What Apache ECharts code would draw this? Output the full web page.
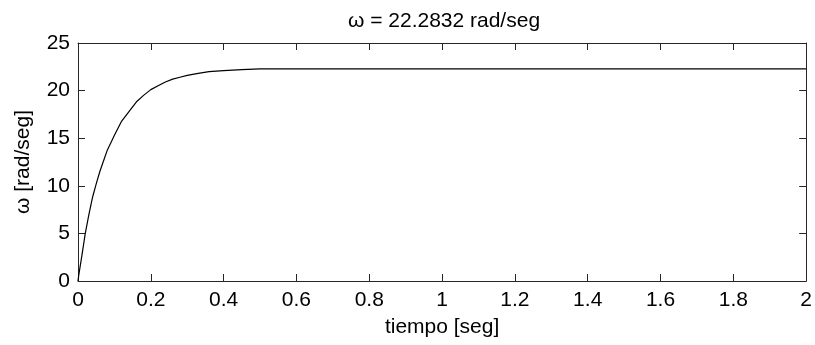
<!DOCTYPE html>
<html>
<head>
<meta charset="utf-8">
<script src="https://cdn.jsdelivr.net/npm/echarts@6/dist/echarts.min.js"></script>
<style>
  html, body { margin: 0; padding: 0; background: #fff; }
  #chart { width: 815px; height: 345px; }
</style>
</head>
<body>
<div id="chart"></div>
<script>
const tiempo = [0, 0.002, 0.01, 0.02, 0.03, 0.04, 0.05, 0.06, 0.07, 0.08, 0.09, 0.10,
    0.12, 0.14, 0.16, 0.18, 0.20, 0.22, 0.24, 0.26, 0.28, 0.30, 0.33, 0.36, 0.40, 0.45, 0.50, 2.0];
const omega = [0, 0.6, 2.5, 5.0, 7.0, 8.8, 10.2, 11.5, 12.6, 13.7, 14.5, 15.3,
    16.8, 17.8, 18.8, 19.5, 20.1, 20.5, 20.9, 21.2, 21.4, 21.6, 21.8, 22.0, 22.1, 22.2, 22.28, 22.28];
const xTicks = ['0', '0.2', '0.4', '0.6', '0.8', '1', '1.2', '1.4', '1.6', '1.8', '2'];
const yTicks = ['0', '5', '10', '15', '20', '25'];

const font = 'Liberation Sans, Arial, sans-serif';
const ink = '#262626';
const txt = '#000';

const points = [];
for (let i = 0; i < tiempo.length; i++) {
    points.push([tiempo[i], omega[i]]);
}

const chart = echarts.init(document.getElementById('chart'));

// MATLAB style box: ticks inside on all four sides
const boxAxis = {
    axisLine: { show: true, onZero: false, lineStyle: { color: ink, width: 1 } },
    axisTick: { show: true, inside: true, length: 7, lineStyle: { color: ink } },
    splitLine: { show: false }
};

const option = {
    animation: false,
    backgroundColor: '#fff',
    title: {
        text: 'ω = 22.2832 rad/seg',
        left: 439,
        top: 6,
        textAlign: 'center',
        textStyle: { fontFamily: font, fontSize: 21, fontWeight: 'normal', color: txt }
    },
    grid: { left: 78, right: 8, top: 43, bottom: 64 },
    xAxis: [
        Object.assign({
            type: 'value', min: 0, max: 2, interval: 0.2,
            name: 'tiempo [seg]', nameLocation: 'middle', nameGap: 36,
            nameTextStyle: { fontFamily: font, fontSize: 21, color: txt },
            axisLabel: {
                fontFamily: font, fontSize: 21, color: txt, margin: 9,
                formatter: v => xTicks[Math.round(v / 0.2)]
            }
        }, boxAxis),
        Object.assign({
            type: 'value', min: 0, max: 2, interval: 0.2, position: 'top',
            axisLabel: { show: false }
        }, boxAxis)
    ],
    yAxis: [
        Object.assign({
            type: 'value', min: 0, max: 25, interval: 5,
            name: 'ω [rad/seg]', nameLocation: 'middle', nameGap: 44,
            nameTextStyle: { fontFamily: font, fontSize: 21, color: txt },
            axisLabel: {
                fontFamily: font, fontSize: 21, color: txt, margin: 8,
                formatter: v => yTicks[Math.round(v / 5)]
            }
        }, boxAxis),
        Object.assign({
            type: 'value', min: 0, max: 25, interval: 5, position: 'right',
            axisLabel: { show: false }
        }, boxAxis)
    ],
    series: [{
        type: 'line',
        data: points,
        showSymbol: false,
        lineStyle: { color: '#000', width: 1.2 },
        xAxisIndex: 0,
        yAxisIndex: 0
    }]
};

chart.setOption(option);
</script>
</body>
</html>
